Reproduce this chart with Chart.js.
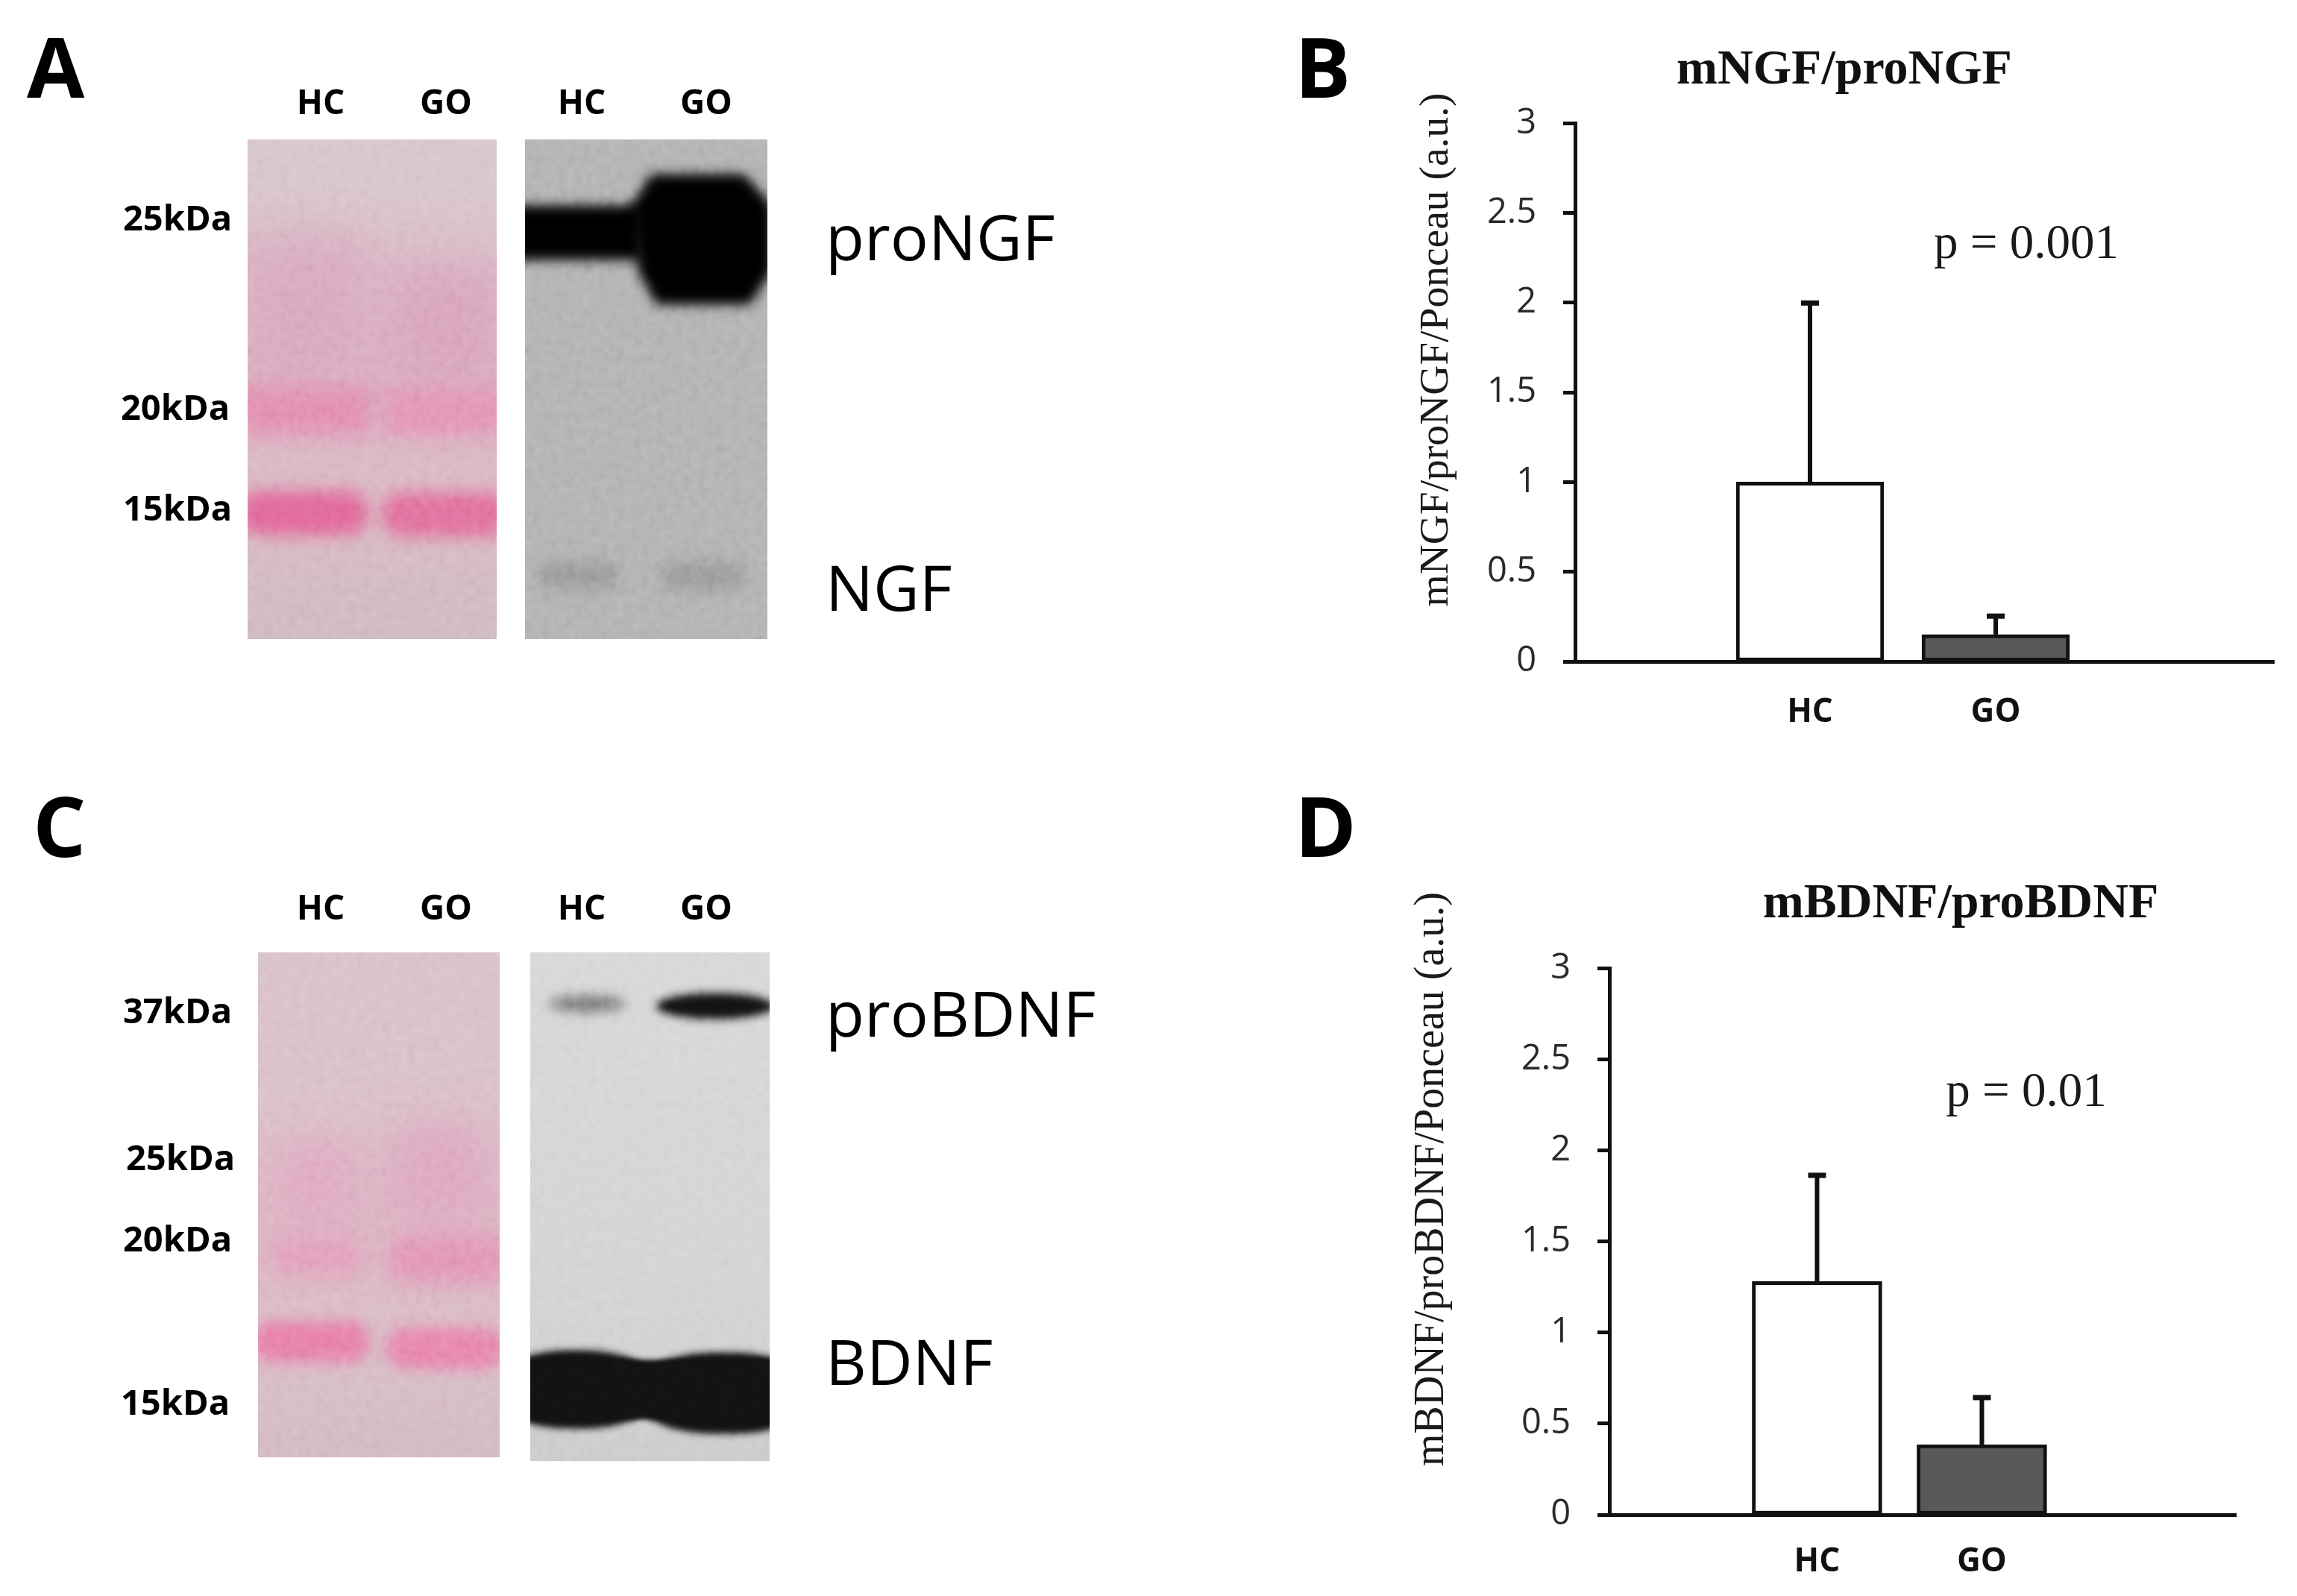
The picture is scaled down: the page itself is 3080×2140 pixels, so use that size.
<!DOCTYPE html>
<html><head><meta charset="utf-8">
<script src="https://cdn.jsdelivr.net/npm/chart.js@4"></script>
<style>
html,body{margin:0;padding:0;background:#fff;width:3080px;height:2140px;overflow:hidden;position:relative}
canvas{position:absolute;display:block}
.t{position:absolute;white-space:nowrap;font-family:"Open Sans",sans-serif;color:#000;transform:translateY(-50%);line-height:1}
.big{font-weight:700;font-size:112px}
.lane{font-weight:700;font-size:46px;transform:translate(-50%,-50%)}
.kda{font-weight:700;font-size:47px}
.name{font-size:85px}
.panel{position:absolute;overflow:hidden}
.b{position:absolute}
.grain{position:absolute;left:0;top:0;width:100%;height:100%;opacity:.22;mix-blend-mode:overlay}
</style></head><body>

<svg width="0" height="0" style="position:absolute"><filter id="grain"><feTurbulence type="fractalNoise" baseFrequency="0.09" numOctaves="2" seed="7"/><feColorMatrix type="saturate" values="0"/><feComponentTransfer><feFuncA type="linear" slope="0" intercept="1"/></feComponentTransfer></filter></svg>

<div class="t big" style="left:36px;top:88px">A</div>
<div class="t big" style="left:1736px;top:88px">B</div>
<div class="t big" style="left:44px;top:1106px">C</div>
<div class="t big" style="left:1736px;top:1106px">D</div>

<div class="t lane" style="left:430px;top:135px">HC</div>
<div class="t lane" style="left:598px;top:135px">GO</div>
<div class="t lane" style="left:780px;top:135px">HC</div>
<div class="t lane" style="left:947px;top:135px">GO</div>
<div class="t lane" style="left:430px;top:1215px">HC</div>
<div class="t lane" style="left:598px;top:1215px">GO</div>
<div class="t lane" style="left:780px;top:1215px">HC</div>
<div class="t lane" style="left:947px;top:1215px">GO</div>

<div class="t kda" style="left:165px;top:291px">25kDa</div>
<div class="t kda" style="left:162px;top:545px">20kDa</div>
<div class="t kda" style="left:165px;top:680px">15kDa</div>
<div class="t kda" style="left:165px;top:1354px">37kDa</div>
<div class="t kda" style="left:169px;top:1551px">25kDa</div>
<div class="t kda" style="left:165px;top:1660px">20kDa</div>
<div class="t kda" style="left:162px;top:1879px">15kDa</div>

<div class="t name" style="left:1107px;top:316px">proNGF</div>
<div class="t name" style="left:1107px;top:786px">NGF</div>
<div class="t name" style="left:1107px;top:1357px">proBDNF</div>
<div class="t name" style="left:1107px;top:1824px">BDNF</div>

<!-- Ponceau A -->
<div class="panel" style="left:332px;top:187px;width:334px;height:670px;background:linear-gradient(180deg,#d4c2c9 0%,#d6c0c9 12%,#d8b4c3 28%,#d8aec0 45%,#d8b2c1 60%,#d6b4c0 78%,#cfb5be 90%,#cdb6be 100%)">
<div class="b" style="left:-10px;top:130px;width:170px;height:190px;background:#d69db5;opacity:.7;filter:blur(30px)"></div>
<div class="b" style="left:190px;top:170px;width:150px;height:160px;background:#d599b3;opacity:.75;filter:blur(28px)"></div>
<div class="b" style="left:-10px;top:330px;width:176px;height:66px;background:#e086ab;filter:blur(14px)"></div>
<div class="b" style="left:182px;top:333px;width:165px;height:64px;background:#e18dae;filter:blur(14px)"></div>
<div class="b" style="left:-10px;top:470px;width:172px;height:62px;border-radius:28px;background:#df6494;filter:blur(10px)"></div>
<div class="b" style="left:179px;top:472px;width:170px;height:62px;border-radius:28px;background:#e06b98;filter:blur(10px)"></div>
<svg class="grain"><rect width="100%" height="100%" filter="url(#grain)"/></svg>
</div>
<!-- Blot A -->
<div class="panel" style="left:704px;top:187px;width:325px;height:670px;background:#aeaeae">
<div class="b" style="left:-20px;top:88px;width:178px;height:74px;background:#000;filter:blur(8px)"></div>
<div class="b" style="left:0;top:0;width:100%;height:100%;filter:blur(8px)"><div class="b" style="left:142px;top:46px;width:190px;height:176px;background:#000;clip-path:polygon(14% 0,80% 0,100% 24%,100% 74%,84% 100%,18% 100%,5% 75%,0 25%)"></div></div>
<div class="b" style="left:18px;top:568px;width:108px;height:34px;border-radius:17px;background:#929292;filter:blur(11px)"></div>
<div class="b" style="left:182px;top:568px;width:112px;height:34px;border-radius:17px;background:#929292;filter:blur(11px)"></div>
<svg class="grain"><rect width="100%" height="100%" filter="url(#grain)"/></svg>
</div>
<!-- Ponceau C -->
<div class="panel" style="left:346px;top:1277px;width:324px;height:677px;background:linear-gradient(180deg,#d6bec6 0%,#d8bbc6 35%,#dab3c2 50%,#d8b6c2 70%,#d4b8c2 85%,#cfb5bf 100%)">
<div class="b" style="left:20px;top:250px;width:115px;height:120px;background:#dda5bc;filter:blur(24px)"></div>
<div class="b" style="left:175px;top:230px;width:135px;height:130px;background:#dba2ba;filter:blur(26px)"></div>
<div class="b" style="left:14px;top:380px;width:130px;height:56px;border-radius:25px;background:#e09ab6;filter:blur(15px)"></div>
<div class="b" style="left:172px;top:378px;width:165px;height:66px;border-radius:28px;background:#e08fb0;filter:blur(15px)"></div>
<div class="b" style="left:-6px;top:494px;width:156px;height:56px;border-radius:28px;background:#e679a5;filter:blur(9px)"></div>
<div class="b" style="left:171px;top:503px;width:160px;height:56px;border-radius:28px;background:#e67ea9;filter:blur(9px)"></div>
<svg class="grain"><rect width="100%" height="100%" filter="url(#grain)"/></svg>
</div>
<!-- Blot C -->
<div class="panel" style="left:711px;top:1277px;width:321px;height:682px;background:linear-gradient(180deg,#d5d5d5,#d0d0d0 70%,#c8c8c8)">
<div class="b" style="left:24px;top:58px;width:104px;height:22px;border-radius:50%;background:#6e6e6e;filter:blur(8px)"></div>
<div class="b" style="left:168px;top:54px;width:160px;height:36px;border-radius:50%;background:#111;filter:blur(6px)"></div>
<div class="b" style="left:-50px;top:533px;width:222px;height:106px;border-radius:45%;background:#111;filter:blur(5px)"></div>
<div class="b" style="left:140px;top:536px;width:240px;height:110px;border-radius:45%;background:#111;filter:blur(5px)"></div>
<div class="b" style="left:-10px;top:546px;width:340px;height:80px;background:#111;filter:blur(3px)"></div>
<svg class="grain"><rect width="100%" height="100%" filter="url(#grain)"/></svg>
</div>

<canvas id="chartB" width="1204" height="1010" style="left:1870px;top:0"></canvas>
<canvas id="chartD" width="1220" height="1100" style="left:1860px;top:1040px"></canvas>

<script>
const categories = ['HC', 'GO'];
const yMax = 3;
const yStep = 0.5;
const mNgfValues = [1.0, 0.15];
const mNgfErrorTops = [2.0, 0.255];
const mBdnfValues = [1.28, 0.385];
const mBdnfErrorTops = [1.865, 0.645];
const barColors = ['#ffffff', '#595959'];
const INK = '#111111';

const errorBars = {
  id: 'errorBars',
  beforeDatasetsDraw(chart, args, opts) {
    const {ctx, scales: {x, y}} = chart;
    ctx.save();
    ctx.fillStyle = INK;
    opts.tops.forEach((top, i) => {
      const px = x.getPixelForValue(i + 1), p1 = y.getPixelForValue(top), p0 = y.getPixelForValue(opts.values[i]);
      ctx.fillRect(px - 3, p1, 6, p0 - p1);
      ctx.fillRect(px - 12, p1 - 3, 24, 7);
    });
    ctx.restore();
  }
};
// centres the library's title block on a given x inside the canvas
const titlePlacer = {
  id: 'titlePlacer',
  afterLayout(chart, args, opts) {
    const t = chart.titleBlock;
    t.left = opts.centerX - 450;
    t.right = opts.centerX + 450;
  }
};
const panelNotes = {
  id: 'panelNotes',
  afterDraw(chart, args, opts) {
    const {ctx} = chart;
    ctx.save();
    ctx.fillStyle = '#1a1a1a';
    ctx.textAlign = 'center';
    ctx.textBaseline = 'middle';
    ctx.font = opts.axisFont + 'px "Liberation Serif"';
    ctx.translate(opts.axisX, opts.axisY);
    ctx.rotate(-Math.PI / 2);
    ctx.fillText(opts.axisLabel, 0, 0);
    ctx.restore();
    ctx.save();
    ctx.fillStyle = '#1a1a1a';
    ctx.textAlign = 'center';
    ctx.textBaseline = 'middle';
    ctx.font = '65px "Liberation Serif"';
    ctx.fillText(opts.pText, opts.pX, opts.pY);
    ctx.restore();
  }
};

function makeChart(id, cfg) {
  return new Chart(document.getElementById(id), {
    type: 'bar',
    data: {
      datasets: [{
        data: categories.map((c, i) => ({x: i + 1, y: cfg.values[i]})),
        backgroundColor: barColors,
        borderColor: INK,
        borderWidth: 5,
        borderSkipped: false,
        barThickness: cfg.barThickness
      }]
    },
    plugins: [errorBars, titlePlacer, panelNotes],
    options: {
      responsive: false,
      animation: false,
      layout: {padding: {left: 0, top: 0, bottom: 0, right: cfg.padRight}},
      plugins: {
        legend: {display: false},
        tooltip: {enabled: false},
        title: {
          display: true,
          text: cfg.title,
          color: '#111',
          font: {family: '"Liberation Serif"', size: 66, weight: 'bold'},
          padding: cfg.titlePad
        },
        titlePlacer: {centerX: cfg.titleX},
        errorBars: {values: cfg.values, tops: cfg.tops},
        panelNotes: cfg.notes
      },
      scales: {
        x: {
          type: 'linear',
          offset: false,
          min: cfg.xMin, max: cfg.xMax,
          afterBuildTicks: s => { s.ticks = categories.map((c, i) => ({value: i + 1})); },
          afterFit: s => { s.height = cfg.xHeight; },
          ticks: {
            autoSkip: false, maxRotation: 0, padding: cfg.xTickPad, color: '#111',
            font: {family: '"Open Sans"', size: 44, weight: 'bold'},
            callback: v => categories[v - 1]
          },
          grid: {display: false, drawTicks: false},
          border: {display: true, color: INK, width: 5}
        },
        y: {
          min: 0, max: yMax,
          afterFit: s => { s.width = cfg.yWidth; },
          ticks: {
            stepSize: yStep, padding: 36, color: '#2a2a2a',
            font: {family: '"Open Sans"', size: 47},
            callback: v => String(v)
          },
          grid: {drawOnChartArea: false, drawTicks: true, tickLength: 16, tickColor: INK, tickWidth: 5, color: INK},
          border: {display: true, color: INK, width: 5}
        }
      }
    }
  });
}

makeChart('chartB', {
  values: mNgfValues, tops: mNgfErrorTops, title: 'mNGF/proNGF', barThickness: 198,
  padRight: 25, titlePad: {top: 55, bottom: 31}, titleX: 603, xMin: -0.265, xMax: 3.498,
  xHeight: 123, yWidth: 242, xTickPad: 42,
  notes: {axisLabel: 'mNGF/proNGF/Ponceau (a.u.)', axisFont: 55.5, axisX: 56, axisY: 469, pText: 'p = 0.001', pX: 847, pY: 329}
});
makeChart('chartD', {
  values: mBdnfValues, tops: mBdnfErrorTops, title: 'mBDNF/proBDNF', barThickness: 174,
  padRight: 82, titlePad: {top: 133, bottom: 46}, titleX: 769, xMin: -0.26, xMax: 3.541,
  xHeight: 109, yWidth: 298, xTickPad: 37,
  notes: {axisLabel: 'mBDNF/proBDNF/Ponceau (a.u.)', axisFont: 56, axisX: 60, axisY: 541, pText: 'p = 0.01', pX: 857, pY: 426}
});
</script>
</body></html>
